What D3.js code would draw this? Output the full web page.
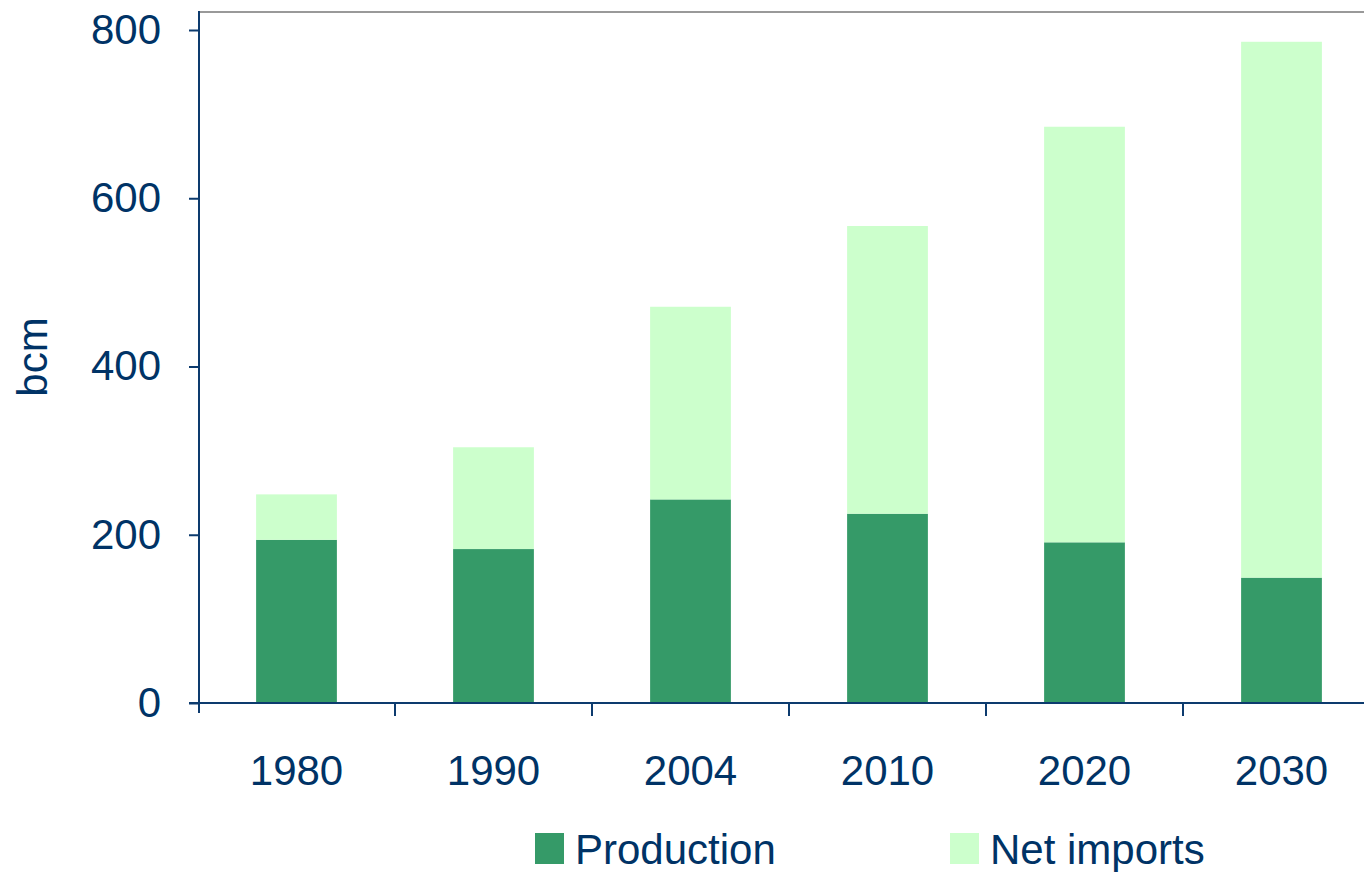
<!DOCTYPE html>
<html>
<head>
<meta charset="utf-8">
<script src="https://cdn.jsdelivr.net/npm/d3@7"></script>
<style>
  body { margin: 0; background: #fff; }
  text { font-family: "Liberation Sans", Arial, sans-serif; fill: #003366; }
</style>
</head>
<body>
<svg id="chart" width="1364" height="872"></svg>
<script>
const years = ["1980", "1990", "2004", "2010", "2020", "2030"],
      production = [194, 183, 242, 225, 191, 149],
      netImports = [54, 121, 229, 342, 494, 637],
      yTicks = [0, 200, 400, 600, 800],
      seriesNames = ["Production", "Net imports"],
      seriesColors = ["#359a68", "#ccffcc"];

const AXIS_COLOR = "#0d3b6e",
      FONT_SIZE = 42;

const svg = d3.select("#chart");

const x = d3.scaleBand()
  .domain(years)
  .range([198, 1380])
  .paddingInner(0.59)
  .paddingOuter(0.295);

const y = d3.scaleLinear()
  .domain([0, 800])
  .range([703, 30]);

const rows = years.map((yr, i) => ({year: yr, Production: production[i], "Net imports": netImports[i]}));
const stacked = d3.stack().keys(seriesNames)(rows);

// top frame line
svg.append("line")
  .attr("x1", 199).attr("x2", 1364)
  .attr("y1", 12).attr("y2", 12)
  .attr("stroke", "#999").attr("stroke-width", 2);

// bars
svg.append("g").selectAll("g")
  .data(stacked)
  .join("g")
  .attr("fill", (d, i) => seriesColors[i])
  .selectAll("rect")
  .data(d => d)
  .join("rect")
  .attr("x", d => x(d.data.year))
  .attr("width", x.bandwidth())
  .attr("y", d => y(d[1]))
  .attr("height", d => y(d[0]) - y(d[1]));

// y axis
const yAxis = svg.append("g")
  .attr("transform", "translate(199,0)")
  .call(d3.axisLeft(y).tickValues(yTicks).tickSize(10).tickPadding(28).tickSizeOuter(0));
yAxis.select(".domain").remove();
yAxis.append("line")
  .attr("x1", 0).attr("x2", 0)
  .attr("y1", 11).attr("y2", 713)
  .attr("stroke", AXIS_COLOR).attr("stroke-width", 2);

// x axis
const xTickPos = years.map(yr => x(yr) - x.step() * x.paddingInner() / 2);
const xAxis = svg.append("g").attr("transform", "translate(0,703)");
xAxis.append("line")
  .attr("x1", 189).attr("x2", 1364)
  .attr("stroke", AXIS_COLOR).attr("stroke-width", 2);
xAxis.selectAll("line.tick")
  .data(xTickPos.slice(1))
  .join("line")
  .attr("class", "tick")
  .attr("x1", d => d).attr("x2", d => d)
  .attr("y1", 0).attr("y2", 13)
  .attr("stroke", AXIS_COLOR).attr("stroke-width", 2);
xAxis.selectAll("text")
  .data(years)
  .join("text")
  .attr("x", d => x(d) + x.bandwidth() / 2)
  .attr("y", 82)
  .attr("text-anchor", "middle")
  .style("font-size", FONT_SIZE + "px")
  .text(d => d);

yAxis.selectAll(".tick line").attr("stroke", AXIS_COLOR).attr("stroke-width", 2);
yAxis.selectAll(".tick text")
  .style("font-size", FONT_SIZE + "px")
  .attr("fill", "#003366");

// y label
svg.append("text")
  .attr("transform", "translate(47,357) rotate(-90)")
  .attr("text-anchor", "middle")
  .style("font-size", FONT_SIZE + "px")
  .text("bcm");

// legend
const legendX = [535, 950];
const legend = svg.append("g").selectAll("g")
  .data(seriesNames)
  .join("g")
  .attr("transform", (d, i) => "translate(" + legendX[i] + ",833)");
legend.append("rect")
  .attr("width", 29).attr("height", 31)
  .attr("fill", (d, i) => seriesColors[i]);
legend.append("text")
  .attr("x", 40).attr("y", 31)
  .style("font-size", FONT_SIZE + "px")
  .text(d => d);
</script>
</body>
</html>
